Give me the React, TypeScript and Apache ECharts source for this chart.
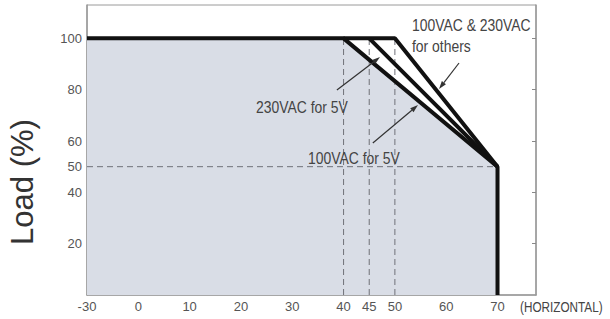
import React, { useEffect, useRef } from "react";
import * as echarts from "echarts";

// Temperature (°C) tick labels shown on the x axis
const xTickLabels = [-30, 0, 10, 20, 30, 40, 45, 50, 60, 70];
const xTickMarks = [0, 10, 20, 30, 40, 45, 50, 60, 70];
const yTickLabels = [20, 40, 50, 60, 80, 100];
const yTickMarks = [20, 40, 60, 80, 100];

// Derating curves (temperature, load %)
const curve40Temp = [-30, 40, 70, 70];
const curve40Load = [100, 100, 50, 0];
const curve45Temp = [45, 70];
const curve45Load = [100, 50];
const curve50Temp = [40, 50, 70];
const curve50Load = [100, 100, 50];

// Dashed reference lines
const vRefTemps = [40, 45, 50];
const vRefTop = 100;
const hRefLoad = 50;
const hRefRange = [-30, 70];

// Annotation arrows: [fromTemp, fromLoad, toTemp, toLoad] in data units
const arrow230 = [38.7, 79.9, 47.1, 92.7];
const arrow100 = [45.7, 59.2, 54.5, 74.0];
const arrowOthers = [62.5, 90.4, 58.6, 80.3];

// The axis is compressed below 0: -30 sits where -10 would be.
const mapT = (t: number) => (t < 0 ? t / 3 : t);
const unmapT = (v: number) => (v < 0 ? v * 3 : v);

const pairs = (ts: number[], ls: number[]) => ts.map((t, i) => [mapT(t), ls[i]]);

const SANS = "'Liberation Sans', Arial, sans-serif";

export default function App() {
  const ref = useRef<HTMLDivElement>(null);
  useEffect(() => {
    document.body.style.margin = "0";
    const chart = echarts.init(ref.current!, null, { renderer: "svg" });
    const thick = { color: "#111", width: 4 };
    const dashed = { color: "#6f7178", width: 1, type: [6, 4] as any };
    const series: any[] = [
      {
        type: "line",
        data: pairs(curve40Temp, curve40Load),
        symbol: "none",
        lineStyle: { width: 0 },
        areaStyle: { color: "#d9dde6", opacity: 1 },
        z: 1,
      },
    ];
    vRefTemps.forEach((t) => {
      series.push({
        type: "line",
        data: [
          [mapT(t), 0],
          [mapT(t), vRefTop],
        ],
        symbol: "none",
        lineStyle: dashed,
        z: 2,
      });
    });
    series.push({
      type: "line",
      data: hRefRange.map((t) => [mapT(t), hRefLoad]),
      symbol: "none",
      lineStyle: dashed,
      z: 2,
    });
    [
      [curve50Temp, curve50Load],
      [curve45Temp, curve45Load],
      [curve40Temp, curve40Load],
    ].forEach(([ts, ls]) => {
      series.push({
        type: "line",
        data: pairs(ts, ls),
        symbol: "none",
        lineStyle: thick,
        z: 3,
      });
    });

    const axisColor = "#9a9a9a";
    const tickLabel = { color: "#555", fontFamily: SANS, fontSize: 13, margin: 5 };
    chart.setOption({
      animation: false,
      grid: {
        left: 87,
        right: 74,
        top: 5,
        bottom: 24,
        show: true,
        borderColor: axisColor,
        borderWidth: 1,
        backgroundColor: "#ffffff",
      },
      xAxis: {
        type: "value",
        min: -10,
        max: 77.5,
        splitLine: { show: false },
        axisLine: { onZero: false, lineStyle: { color: axisColor, width: 1.5 } },
        axisTick: {
          inside: true,
          length: 4,
          lineStyle: { color: "#888" },
          customValues: xTickMarks.map(mapT),
        },
        axisLabel: {
          ...tickLabel,
          customValues: xTickLabels.map(mapT),
          formatter: (v: number) => String(Math.round(unmapT(v))),
        },
      },
      yAxis: [
        {
          type: "value",
          min: 0,
          max: 113,
          splitLine: { show: false },
          axisLine: { show: true, onZero: false, lineStyle: { color: axisColor, width: 1.5 } },
          axisTick: {
            show: true,
            inside: true,
            length: 4,
            lineStyle: { color: "#888" },
            customValues: yTickMarks,
          },
          axisLabel: { ...tickLabel, customValues: yTickLabels },
        },
        {
          type: "value",
          position: "right",
          min: 0,
          max: 113,
          splitLine: { show: false },
          axisLine: { show: true, onZero: false, lineStyle: { color: axisColor, width: 1.5 } },
          axisTick: {
            show: true,
            inside: true,
            length: 4,
            lineStyle: { color: "#888" },
            customValues: yTickMarks,
          },
          axisLabel: { show: false },
        },
      ],
      series,
    });

    const arrowGraphic = (a: number[]) => {
      const p0 = chart.convertToPixel({ gridIndex: 0 }, [mapT(a[0]), a[1]]) as number[];
      const p1 = chart.convertToPixel({ gridIndex: 0 }, [mapT(a[2]), a[3]]) as number[];
      const dx = p1[0] - p0[0];
      const dy = p1[1] - p0[1];
      const len = Math.sqrt(dx * dx + dy * dy);
      const ux = dx / len;
      const uy = dy / len;
      const hl = 8;
      const hw = 2.6;
      const bx = p1[0] - ux * hl;
      const by = p1[1] - uy * hl;
      return [
        {
          type: "line",
          shape: { x1: p0[0], y1: p0[1], x2: bx, y2: by },
          style: { stroke: "#333", lineWidth: 1.2 },
          z: 10,
        },
        {
          type: "polygon",
          shape: {
            points: [
              [p1[0], p1[1]],
              [bx - uy * hw, by + ux * hw],
              [bx + uy * hw, by - ux * hw],
            ],
          },
          style: { fill: "#333" },
          z: 10,
        },
      ];
    };

    const txt = (text: string, x: number, y: number, size = 16, sx = 0.87) => ({
      type: "text",
      x,
      y,
      scaleX: sx,
      style: {
        text,
        fill: "#444",
        font: `${size}px ${SANS}`,
        verticalAlign: "middle",
      },
      z: 10,
    });

    chart.setOption({
      graphic: [
        ...arrowGraphic(arrow230),
        ...arrowGraphic(arrow100),
        ...arrowGraphic(arrowOthers),
        txt("100VAC & 230VAC", 412, 25),
        txt("for others", 412, 46),
        txt("230VAC for 5V", 256, 107),
        txt("100VAC for 5V", 308, 158),
        txt("(HORIZONTAL)", 520, 307, 14, 0.84),
        {
          type: "text",
          x: 22,
          y: 182,
          rotation: Math.PI / 2,
          style: {
            text: "Load (%)",
            fill: "#333",
            font: `31px ${SANS}`,
            align: "center",
            verticalAlign: "middle",
          },
          z: 10,
        },
      ],
    });

    return () => chart.dispose();
  }, []);
  return (
    <div
      ref={ref}
      style={{ position: "absolute", left: 0, top: 0, width: 610, height: 319 }}
    />
  );
}
